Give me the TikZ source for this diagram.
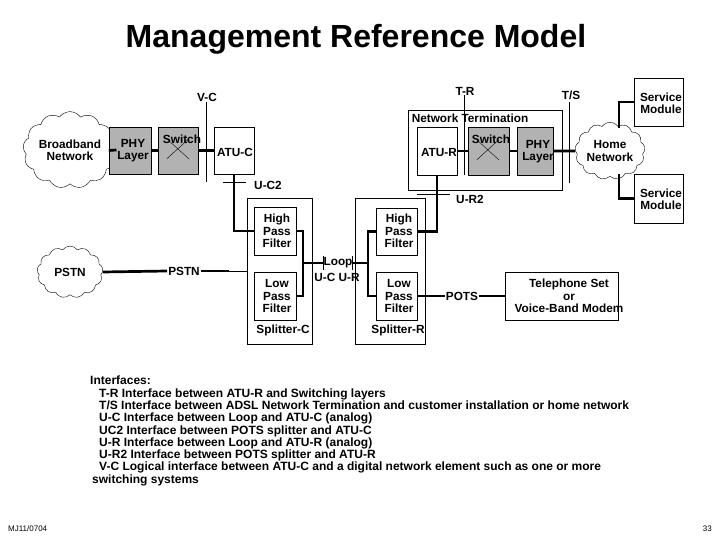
\documentclass[tikz,border=0pt]{standalone}
\usepackage{fontspec}
\setmainfont{Liberation Sans}
\usetikzlibrary{shapes.symbols}
\begin{document}
\begin{tikzpicture}[x=1pt,y=-1pt,
 lbl/.style={font=\bfseries\fontsize{11.8}{12.3}\selectfont,inner sep=0pt,align=center},
 box/.style={draw,thin,inner sep=0pt},
 gbox/.style={draw,thin,fill=black!30,inner sep=0pt},
 cl/.style={cloud,cloud puffs=13,cloud puff arc=110,draw,thin,inner sep=0pt,minimum width=66pt,minimum height=52pt,aspect=1.3,font=\bfseries\fontsize{11.8}{12.3}\selectfont,align=center},
 thick line/.style={line width=2.7pt},
 thin line/.style={thin}]
\useasboundingbox (0,0) rectangle (720,540);
\node[font=\bfseries\fontsize{32}{34}\selectfont] (title) at (356,39) {Management Reference Model};
% left side
\node[cl] (bb) at (70,150) {Broadband\\Network};
\node[gbox,minimum width=42pt,minimum height=47pt] (phyc) at (130,150.5) {};
\node[lbl] (phyct) at (133,151) {PHY\\Layer};
\node[gbox,minimum width=40pt,minimum height=47pt] (swc) at (178,150.5) {};
\draw (swc.north west)++(9,12) -- ++(22,20);
\draw (swc.north west)++(31,12) -- ++(-22,20);
\node[lbl] (swct) at (182,139) {Switch};
\node[box,minimum width=40pt,minimum height=47pt] (atuc) at (234,150.5) {};
\node[lbl] (atuct) at (235,152) {ATU-C};
\draw[thick line] (bb.east) -- (phyc.west);
\draw[thick line] (phyc.east) -- (swc.west);
\draw[thick line] (swc.east) -- (atuc.west);
\coordinate (vc1) at (206,102); \coordinate (vc2) at (206,182);
\draw (vc1) -- (vc2);
\node[lbl] (vc) at (207,97) {V-C};
\coordinate (uc2a) at (223,182); \coordinate (uc2b) at (246,182);
\draw (uc2a) -- (uc2b);
\node[lbl] (uc2) at (268,185) {U-C2};
% splitter C
\node[box,minimum width=65pt,minimum height=146pt] (spc) at (279.5,271) {};
\node[box,minimum width=42pt,minimum height=48pt] (hpfc) at (275,231) {};
\node[lbl] (hpfct) at (277,231) {High\\Pass\\Filter};
\node[box,minimum width=42pt,minimum height=48pt] (lpfc) at (275,296) {};
\node[lbl] (lpfct) at (277,296) {Low\\Pass\\Filter};
\node[lbl] (spct) at (283,330) {Splitter-C};
\draw[thick line] (atuc.south -| 234,0) |- (hpfc.west);
\draw[thick line] (hpfc.east) -| (303,263) coordinate (jc) |- (lpfc.east);
\node[cl] (pstn) at (70,272) {PSTN};
\node[lbl,fill=white,inner xsep=1pt] (pstnt) at (184,271) {PSTN};
\draw[thick line] (pstn.east) -- (pstnt.west);
\draw[thick line] (pstnt.east) -- (229,271);
\draw (229,271) -- (spc.west |- 0,271);
% splitter R
\node[box,minimum width=70pt,minimum height=146pt] (spr) at (390,271) {};
\node[box,minimum width=41pt,minimum height=47pt] (hpfr) at (396.5,231.5) {};
\node[lbl] (hpfrt) at (399,231) {High\\Pass\\Filter};
\node[box,minimum width=41pt,minimum height=48pt] (lpfr) at (396.5,296) {};
\node[lbl] (lpfrt) at (399,296) {Low\\Pass\\Filter};
\node[lbl] (sprt) at (398,330) {Splitter-R};
\draw[thick line] (hpfr.west) -| (368,263) coordinate (jr) |- (lpfr.west);
\node[lbl,fill=white,inner xsep=0.5pt] (loop) at (338,263) {Loop};
\draw[thick line] (jc) -- (loop.west);
\draw[thick line] (loop.east) -- (jr);
\coordinate (t1a) at (323,256); \coordinate (t1b) at (323,270);
\coordinate (t2a) at (352,256); \coordinate (t2b) at (352,270);
\draw (t1a) -- (t1b); \draw (t2a) -- (t2b);
\node[lbl] (ucur) at (337,277) {U-C U-R};
% network termination
\node[box,minimum width=154pt,minimum height=80pt] (nt) at (485,150) {};
\node[lbl] (ntt) at (470,118) {Network Termination};
\node[box,minimum width=40pt,minimum height=48pt] (atur) at (437,151) {};
\node[lbl] (aturt) at (439,152) {ATU-R};
\node[gbox,minimum width=41pt,minimum height=48pt] (swr) at (488.5,151) {};
\draw (swr.north west)++(9,13) -- ++(22,20);
\draw (swr.north west)++(31,13) -- ++(-22,20);
\node[lbl] (swrt) at (491,139) {Switch};
\node[gbox,minimum width=36pt,minimum height=48pt] (phyr) at (535,151) {};
\node[lbl] (phyrt) at (538,152) {PHY\\Layer};
\draw[thick line] (atur.east) -- (swr.west);
\draw[thick line] (swr.east) -- (phyr.west);
\node[cl] (home) at (610,151) {Home\\Network};
\draw[thick line] (phyr.east) -- (home.west);
\coordinate (tr1) at (464,95); \coordinate (tr2) at (464,175);
\draw (tr1) -- (tr2);
\node[lbl,fill=white,inner xsep=1pt] (trt) at (465,91) {T-R};
\coordinate (ts1) at (569,102); \coordinate (ts2) at (569,183);
\draw (ts1) -- (ts2);
\node[lbl] (tst) at (571,95) {T/S};
\node[box,minimum width=49pt,minimum height=48pt] (sm1) at (658.5,102) {};
\node[lbl] (sm1t) at (661,103) {Service\\Module};
\node[box,minimum width=49pt,minimum height=49pt] (sm2) at (658.5,198.5) {};
\node[lbl] (sm2t) at (661,199) {Service\\Module};
\draw[thick line] (619,128) |- (sm1.west);
\draw[thick line] (619,174) |- (sm2.west);
\coordinate (ur2a) at (417,194); \coordinate (ur2b) at (450,194);
\draw (ur2a) -- (ur2b);
\node[lbl] (ur2t) at (470,199) {U-R2};
\draw[thick line] (atur.south) |- (hpfr.east);
\node[box,minimum width=113pt,minimum height=48pt] (tel) at (561.5,296) {};
\node[lbl] (telt) at (569,296) {Telephone Set\\or\\Voice-Band Modem};
\node[lbl,fill=white,inner xsep=1pt] (pots) at (462,296) {POTS};
\draw[thick line] (lpfr.east) -- (pots.west);
\draw[thick line] (pots.east) -- (tel.west);
% text
\node[font=\bfseries\fontsize{12}{12.3}\selectfont,anchor=north west,align=left,inner sep=0pt] (txt) at (90,376) {Interfaces:\\
\hspace*{9pt}T-R Interface between ATU-R and Switching layers\\
\hspace*{9pt}T/S Interface between ADSL Network Termination and customer installation or home network\\
\hspace*{9pt}U-C Interface between Loop and ATU-C (analog)\\
\hspace*{9pt}UC2 Interface between POTS splitter and ATU-C\\
\hspace*{9pt}U-R Interface between  Loop and ATU-R (analog)\\
\hspace*{9pt}U-R2 Interface between POTS splitter and ATU-R\\
\hspace*{9pt}V-C Logical interface between ATU-C and a digital network element such as one or more\\
\hspace*{2pt}switching systems};
\node[font=\fontsize{8}{9}\selectfont,anchor=west,inner sep=0pt] (foot1) at (8,529) {MJ11/0704};
\node[font=\fontsize{8}{9}\selectfont,anchor=east,inner sep=0pt] (foot2) at (712,529) {33};
\end{tikzpicture}
\end{document}
